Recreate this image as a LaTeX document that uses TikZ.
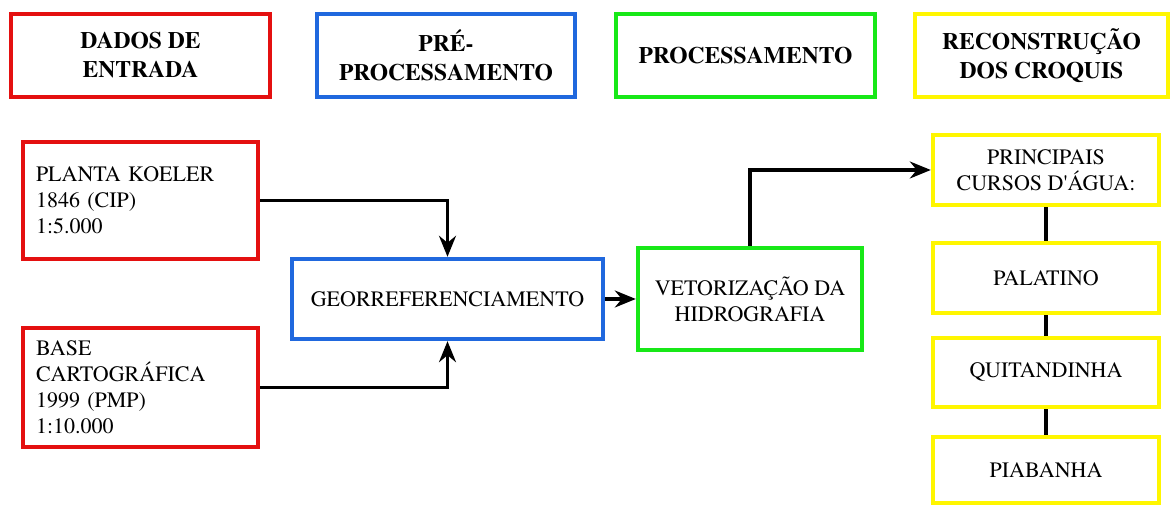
\documentclass[tikz,border=0pt]{standalone}
\usepackage[T1]{fontenc}
\usepackage{mathptmx}
\usetikzlibrary{arrows.meta}
\definecolor{vermelho}{RGB}{228,16,16}
\definecolor{azul}{RGB}{32,104,222}
\definecolor{verde}{RGB}{24,232,24}
\definecolor{amarelo}{RGB}{255,246,0}
\begin{document}
\begin{tikzpicture}[x=0.5pt,y=-0.5pt,
    caixa/.style={draw,line width=2.2pt,inner sep=0pt,align=center,
      font=\fontsize{11}{13}\selectfont},
    titulo/.style={caixa,minimum height=41.5pt,
      font=\fontsize{11.8}{14.5}\selectfont\bfseries},
    entrada/.style={caixa,draw=vermelho,align=left,inner xsep=6.5pt,
      text width=104.5pt},
    curso/.style={caixa,draw=amarelo,minimum width=113pt},
    seta/.style={line width=1.6pt,-{Stealth[length=10.5pt,width=8.5pt,inset=3.5pt]}},
    liga/.style={line width=2.3pt}]
  \useasboundingbox (0,0) rectangle (1174,506);
      \coordinate (T1) at (140.5,55.5);
         \coordinate (T2) at (446,55.5);
           \coordinate (T3) at (745.5,55.5);
            \coordinate (T4) at (1041.5,55.5);
              \coordinate (K) at (140.5,200.5);
                 \coordinate (B) at (140.5,387.5);
                   \coordinate (G) at (447.5,299);
                 \coordinate (V) at (750,299);
              \coordinate (C) at (1046,170);
            \coordinate (P1) at (1046,278);
          \coordinate (P2) at (1046,372.5);
        \coordinate (P3) at (1046,470);
  \node (dados) at (T1)[titulo,draw=vermelho,minimum width=129.5pt]{DADOS DE\\ENTRADA};
  \node (pre) at (T2)[titulo,draw=azul,minimum width=129pt]{PR\'E-\\PROCESSAMENTO};
  \node (proc) at (T3)[titulo,draw=verde,minimum width=129.5pt]{PROCESSAMENTO};
  \node (recon) at (T4)[titulo,draw=amarelo,minimum width=126.5pt]{RECONSTRU\c{C}\~AO\\DOS CROQUIS};
  \node (koeler) at (K)[entrada,minimum height=58.5pt]{PLANTA KOELER\\1846 (CIP)\\1:5.000};
  \node (base) at (B)[entrada,minimum height=59.5pt]{BASE\\CARTOGR\'AFICA\\1999 (PMP)\\1:10.000};
  \node (georef) at (G)[caixa,draw=azul,minimum width=155.5pt,minimum height=40pt]{GEORREFERENCIAMENTO};
  \node (vetor) at (V)[caixa,draw=verde,minimum width=112pt,minimum height=51pt]{VETORIZA\c{C}\~AO DA\\HIDROGRAFIA};
  \node (cursos) at (C)[curso,minimum height=35pt]{PRINCIPAIS\\CURSOS D\textquotesingle\'AGUA:};
  \node (palatino) at (P1)[curso,minimum height=35pt]{PALATINO};
  \node (quitand) at (P2)[curso,minimum height=34.5pt]{QUITANDINHA};
  \node (piabanha) at (P3)[curso,minimum height=33pt]{PIABANHA};
  \draw[seta](koeler.east) -| (georef.north);
  \draw[seta](base.east) -| (georef.south);
  \draw[seta](georef) -- (vetor);
  \draw[seta](vetor.north) |- (cursos.west);
  \draw[liga](cursos)--(palatino)--(quitand)--(piabanha);
\end{tikzpicture}
\end{document}
